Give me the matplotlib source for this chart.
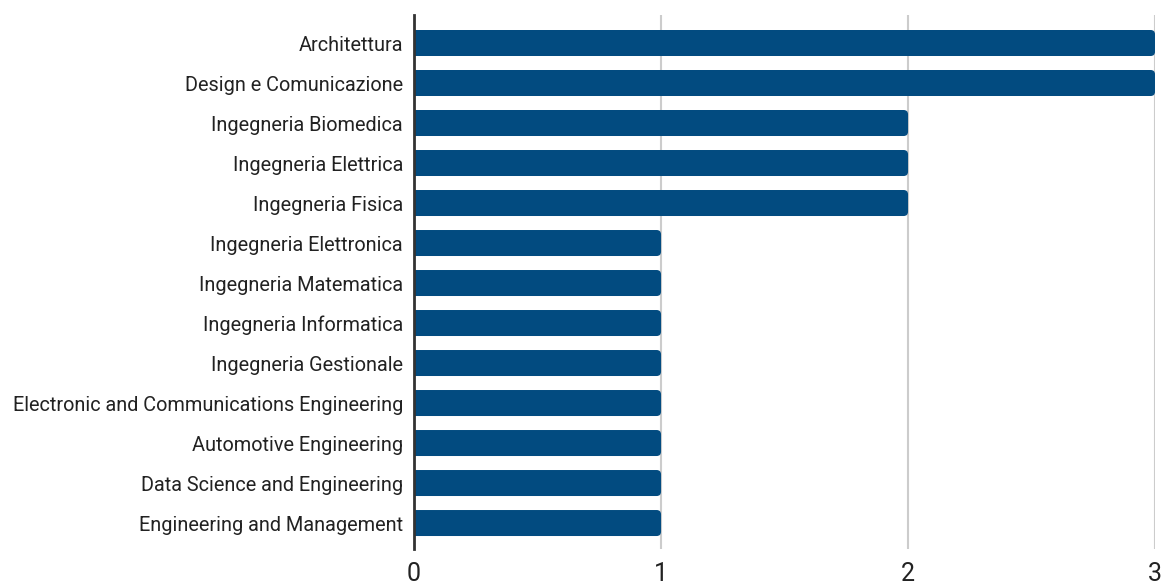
import matplotlib.pyplot as plt
from matplotlib.patches import FancyBboxPatch

plt.rcParams['font.family'] = ['Roboto', 'DejaVu Sans']

courses = [
    'Architettura', 'Design e Comunicazione', 'Ingegneria Biomedica',
    'Ingegneria Elettrica', 'Ingegneria Fisica', 'Ingegneria Elettronica',
    'Ingegneria Matematica', 'Ingegneria Informatica',
    'Ingegneria Gestionale', 'Electronic and Communications Engineering',
    'Automotive Engineering', 'Data Science and Engineering',
    'Engineering and Management',
]
counts = [3, 3, 2, 2, 2, 1, 1, 1, 1, 1, 1, 1, 1]
xticks = [0, 1, 2, 3]

bar_color = '#024b80'
bar_h = 0.65

fig = plt.figure(figsize=(11.64, 5.86), dpi=100)
ax = fig.add_axes([0.3557, 0.0631, 0.9923 - 0.3557, 0.9744 - 0.0631])

ypos = list(range(len(courses)))
# rounded bars (radius ~4px); aspect = y-units per px / x-units per px
for y, v in zip(ypos, counts):
    patch = FancyBboxPatch((-0.03, y - bar_h / 2), v + 0.03, bar_h,
                           boxstyle='round,pad=0,rounding_size=0.018',
                           mutation_aspect=6.2, facecolor=bar_color,
                           edgecolor='none', zorder=3)
    ax.add_patch(patch)

ax.set_xlim(0, 3)
ax.set_ylim(12.65, -0.7)
ax.set_yticks(ypos)
ax.set_yticklabels(courses, fontsize=14.3, color='#222222')
ax.set_xticks(xticks)
ax.set_xticklabels([str(t) for t in xticks], fontsize=18, color='#222222')
ax.tick_params(axis='both', length=0)
ax.tick_params(axis='y', pad=8)
ax.tick_params(axis='x', pad=9)

ax.grid(True, axis='x', color='#cccccc', linewidth=1.5, zorder=0)
for s in ('top', 'right', 'bottom'):
    ax.spines[s].set_visible(False)
ax.spines['left'].set_color('#333333')
ax.spines['left'].set_linewidth(2)
ax.spines['left'].set_zorder(5)

fig.savefig('out.png', dpi=100)
